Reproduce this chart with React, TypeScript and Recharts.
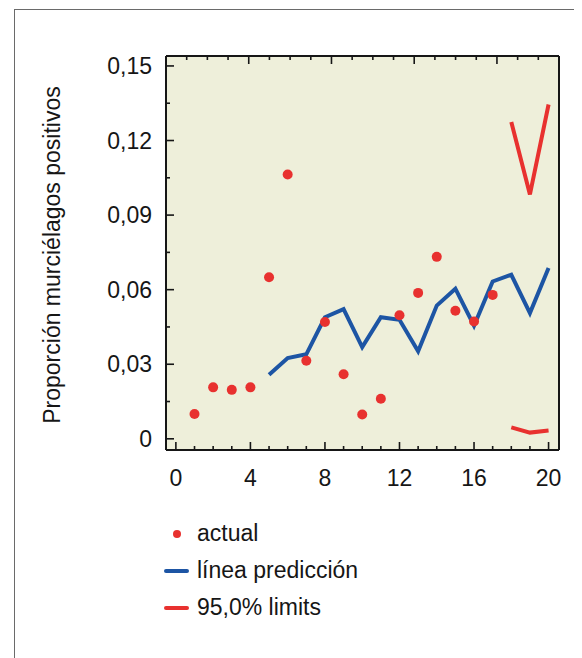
import React from "react";
import { ComposedChart, Line, Scatter, XAxis, YAxis, CartesianGrid } from "recharts";

const periods = [1, 2, 3, 4, 5, 6, 7, 8, 9, 10, 11, 12, 13, 14, 15, 16, 17, 18, 19, 20];
const actual = [0.01, 0.0207, 0.0197, 0.0207, 0.065, 0.1063, 0.0314, 0.047, 0.026, 0.0098, 0.0161, 0.0497, 0.0587, 0.0732, 0.0515, 0.0472, 0.0579, null, null, null];
const prediction = [null, null, null, null, 0.0258, 0.0325, 0.034, 0.0489, 0.0522, 0.0369, 0.0489, 0.0479, 0.0352, 0.0536, 0.0604, 0.0455, 0.0633, 0.066, 0.0506, 0.0687];
const upperLimit = [null, null, null, null, null, null, null, null, null, null, null, null, null, null, null, null, null, 0.1274, 0.0983, 0.1345];
const lowerLimit = [null, null, null, null, null, null, null, null, null, null, null, null, null, null, null, null, null, 0.0046, 0.0025, 0.0033];

const xTicks = [0, 1, 2, 3, 4, 5, 6, 7, 8, 9, 10, 11, 12, 13, 14, 15, 16, 17, 18, 19, 20];
const yTicks = [0, 0.015, 0.03, 0.045, 0.06, 0.075, 0.09, 0.105, 0.12, 0.135, 0.15];

const RED = "#e8312f";
const BLUE = "#1d55a4";
const INK = "#161616";
const FONT = "'Liberation Sans', Arial, sans-serif";
const FS = 23;

const rows = periods.map((x, i) => ({
  x,
  pred: prediction[i],
  upper: upperLimit[i],
  lower: lowerLimit[i],
}));
const actualPts = periods
  .map((x, i) => ({ x, y: actual[i] }))
  .filter((p) => p.y !== null);

const X_GAP = 20;
const Y_GAP = 14;

const isMajorX = (v: number) => v % 4 === 0;
const isMajorY = (v: number) => Math.round(v / 0.015) % 2 === 0;
const fmtY = (v: number) => (v === 0 ? "0" : v.toFixed(2).replace(".", ","));

const BottomTick = (props: any) => {
  const { x, y, payload } = props;
  const v = payload.value;
  const ay = y - X_GAP;
  return (
    <g>
      <line x1={x} x2={x} y1={ay} y2={ay - (isMajorX(v) ? 8 : 4)} stroke={INK} strokeWidth={1.6} />
      {isMajorX(v) && (
        <text x={x} y={y} dy="0.71em" textAnchor="middle" fill={INK} fontSize={FS} fontFamily={FONT}>
          {v}
        </text>
      )}
    </g>
  );
};

const TopTick = (props: any) => {
  const { x, y, payload } = props;
  const v = payload.value;
  return <line x1={x} x2={x} y1={y} y2={y + (isMajorX(v) ? 8 : 4)} stroke={INK} strokeWidth={1.6} />;
};

const LeftTick = (props: any) => {
  const { x, y, payload } = props;
  const v = payload.value;
  const ax = x + Y_GAP;
  return (
    <g>
      <line x1={ax} x2={ax + (isMajorY(v) ? 8 : 4)} y1={y} y2={y} stroke={INK} strokeWidth={1.6} />
      {isMajorY(v) && (
        <text x={x} y={y} dy="0.355em" textAnchor="end" fill={INK} fontSize={FS} fontFamily={FONT}>
          {fmtY(v)}
        </text>
      )}
    </g>
  );
};

const RightTick = (props: any) => {
  const { x, y, payload } = props;
  const v = payload.value;
  return <line x1={x} x2={x - (isMajorY(v) ? 8 : 4)} y1={y} y2={y} stroke={INK} strokeWidth={1.6} />;
};

const YLabel = (props: any) => {
  const { viewBox } = props;
  const cx = viewBox.x + 52;
  const cy = viewBox.y + viewBox.height / 2 + 2;
  return (
    <text x={cx} y={cy} transform={`rotate(-90, ${cx}, ${cy})`} textAnchor="middle" fill={INK} fontSize={FS} fontFamily={FONT}>
      Proporción murciélagos positivos
    </text>
  );
};

const Dot = (props: any) => <circle cx={props.cx} cy={props.cy} r={5} fill={RED} />;

const legendItems = [
  { label: "actual", kind: "dot", color: RED },
  { label: "línea predicción", kind: "line", color: BLUE },
  { label: "95,0% limits", kind: "line", color: RED },
];

const xDomain = [-0.53, 20.56];
const yDomain = [-0.0045, 0.154];

export default function App() {
  return (
    <div style={{ position: "relative", width: 566, height: 650, overflow: "hidden", fontFamily: FONT }}>
      <div
        style={{
          position: "absolute",
          left: 6,
          top: 1,
          width: 563,
          height: 660,
          border: "1.5px solid #6a6a6a",
          borderBottom: "none",
          boxSizing: "border-box",
        }}
      />
      <ComposedChart
        width={566}
        height={650}
        data={rows}
        margin={{ top: 47, right: 14, bottom: 0, left: 0 }}
        style={{ position: "absolute", left: 0, top: 0 }}
      >
        <CartesianGrid horizontal={false} vertical={false} fill="#eeefda" />
        <XAxis
          dataKey="x"
          type="number"
          domain={xDomain}
          ticks={xTicks}
          interval={0}
          height={208}
          tickSize={0}
          tickMargin={X_GAP}
          tick={<BottomTick />}
          axisLine={{ stroke: INK, strokeWidth: 2 }}
          tickLine={false}
        />
        <XAxis
          xAxisId="top"
          orientation="top"
          type="number"
          domain={xDomain}
          ticks={xTicks}
          interval={0}
          height={1}
          tickSize={0}
          tickMargin={0}
          tick={<TopTick />}
          axisLine={{ stroke: INK, strokeWidth: 2 }}
          tickLine={false}
        />
        <YAxis
          type="number"
          domain={yDomain}
          ticks={yTicks}
          interval={0}
          width={158}
          tickSize={0}
          tickMargin={Y_GAP}
          tick={<LeftTick />}
          axisLine={{ stroke: INK, strokeWidth: 2 }}
          tickLine={false}
          label={<YLabel />}
        />
        <YAxis
          yAxisId="right"
          orientation="right"
          type="number"
          domain={yDomain}
          ticks={yTicks}
          interval={0}
          width={1}
          tickSize={0}
          tickMargin={0}
          tick={<RightTick />}
          axisLine={{ stroke: INK, strokeWidth: 2 }}
          tickLine={false}
        />
        <Line dataKey="pred" stroke={BLUE} strokeWidth={4} dot={false} isAnimationActive={false} />
        <Line dataKey="upper" stroke={RED} strokeWidth={4} dot={false} isAnimationActive={false} />
        <Line dataKey="lower" stroke={RED} strokeWidth={4} dot={false} isAnimationActive={false} />
        <Scatter data={actualPts} dataKey="y" shape={<Dot />} isAnimationActive={false} />
      </ComposedChart>
      <div style={{ position: "absolute", left: 152, top: 507 }}>
        {legendItems.map((it) => (
          <div key={it.label} style={{ display: "flex", alignItems: "center", height: 37, fontSize: FS, color: INK }}>
            <div style={{ width: 37, display: "flex", alignItems: "center", justifyContent: it.kind === "dot" ? "center" : "flex-start" }}>
              {it.kind === "dot" ? (
                <div style={{ width: 8, height: 8, borderRadius: 4, background: it.color, marginLeft: -4 }} />
              ) : (
                <div style={{ width: 25, height: 4, borderRadius: 2, background: it.color, marginLeft: 4 }} />
              )}
            </div>
            <span>{it.label}</span>
          </div>
        ))}
      </div>
    </div>
  );
}
